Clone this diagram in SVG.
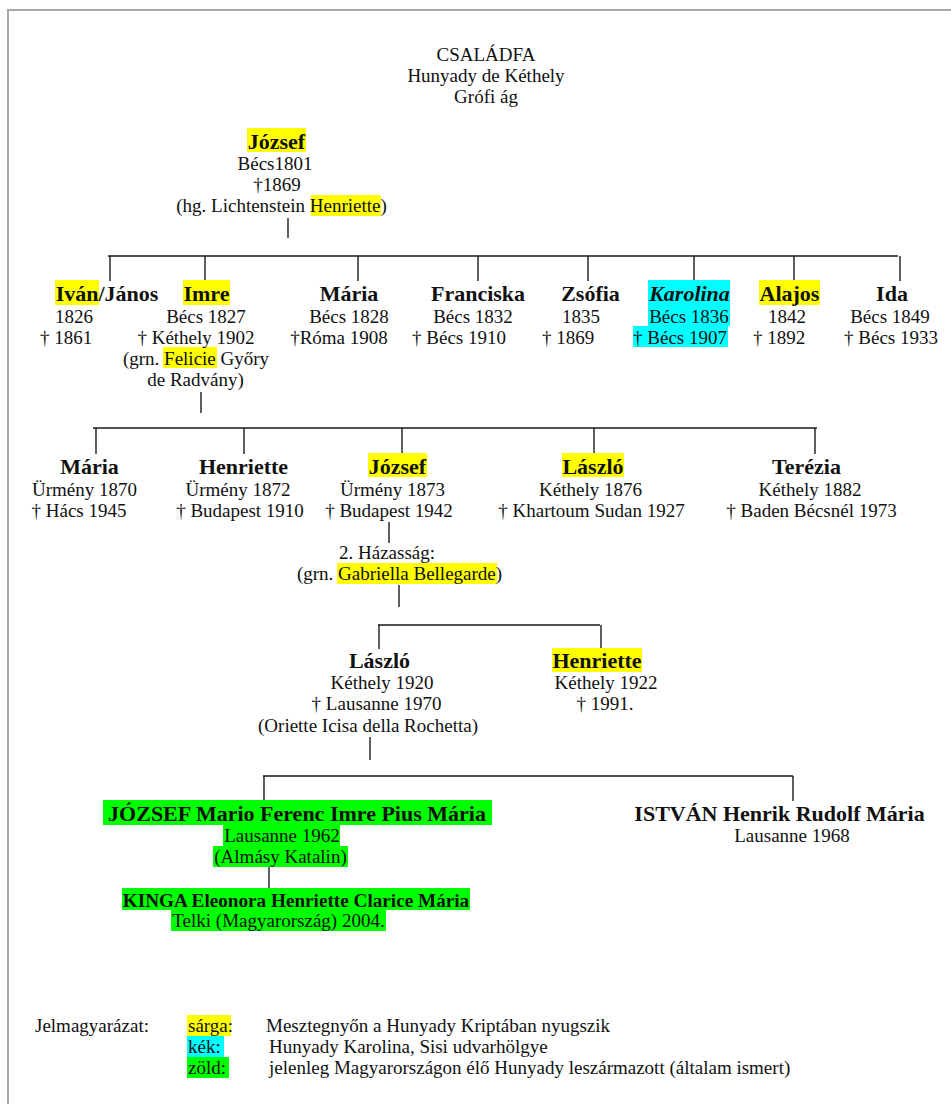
<svg xmlns="http://www.w3.org/2000/svg" width="951" height="1104" viewBox="0 0 951 1104">
<style>
text{font-family:"Liberation Serif","Times New Roman",serif;font-size:19px;fill:#111;text-anchor:middle}
.n{font-size:22px;font-weight:bold}
.s{font-size:19.2px}
.i{font-style:italic}
.l{text-anchor:start}
.y{fill:#ffff00}
.c{fill:#00ffff}
.g{fill:#00ff00}
#connectors line{stroke:#1a1a1a;stroke-width:1.4}
.frame{stroke:#a8a8a8;stroke-width:2;fill:none}
</style>
<rect width="951" height="1104" fill="#fff"/>
<path class="frame" d="M8,1104 V10 H951"/>

<g id="title">
<text x="486" y="61">CSALÁDFA</text>
<text x="486" y="82">Hunyady de Kéthely</text>
<text x="486" y="103">Grófi ág</text>
</g>

<g id="connectors">
<line x1="288" y1="218" x2="288" y2="238"/>
<line x1="108" y1="256" x2="898" y2="256"/>
<line x1="110" y1="256" x2="110" y2="281"/>
<line x1="205" y1="256" x2="205" y2="281"/>
<line x1="358" y1="256" x2="358" y2="281"/>
<line x1="478" y1="256" x2="478" y2="281"/>
<line x1="588" y1="256" x2="588" y2="281"/>
<line x1="694" y1="256" x2="694" y2="281"/>
<line x1="794" y1="256" x2="794" y2="281"/>
<line x1="900" y1="256" x2="900" y2="281"/>
<line x1="201" y1="392" x2="201" y2="413"/>
<line x1="93" y1="428" x2="817" y2="428"/>
<line x1="96" y1="428" x2="96" y2="454"/>
<line x1="244" y1="428" x2="244" y2="454"/>
<line x1="402" y1="428" x2="402" y2="454"/>
<line x1="594" y1="428" x2="594" y2="454"/>
<line x1="815" y1="428" x2="815" y2="454"/>
<line x1="389" y1="522" x2="389" y2="543"/>
<line x1="399" y1="585" x2="399" y2="607"/>
<line x1="378" y1="625" x2="600" y2="625"/>
<line x1="379" y1="625" x2="379" y2="649"/>
<line x1="601" y1="625" x2="601" y2="648"/>
<line x1="370" y1="737" x2="370" y2="760"/>
<line x1="263" y1="776" x2="793" y2="776"/>
<line x1="264" y1="776" x2="264" y2="800"/>
<line x1="793" y1="776" x2="793" y2="801"/>
<line x1="269" y1="867" x2="269" y2="888"/>
</g>

<g id="jozsef-1801">
<rect class="y" x="247" y="128" width="59" height="24"/>
<rect class="y" x="311" y="195" width="70" height="21"/>
<text class="n" x="276.5" y="149">József</text>
<text x="275" y="170">Bécs1801</text>
<text x="277" y="191">†1869</text>
<text x="281.5" y="212">(hg. Lichtenstein Henriette)</text>
</g>

<g id="ivan-janos">
<rect class="y" x="55" y="280" width="44" height="25"/>
<text class="n" x="107" y="301">Iván/János</text>
<text x="74" y="323">1826</text>
<text x="66" y="344">† 1861</text>
</g>

<g id="imre">
<rect class="y" x="183" y="280" width="47" height="25"/>
<rect class="y" x="163" y="347" width="54" height="21"/>
<text class="n" x="206.5" y="301">Imre</text>
<text x="206" y="323">Bécs 1827</text>
<text x="196" y="344">† Kéthely 1902</text>
<text x="196" y="365">(grn. Felicie Győry</text>
<text x="195.5" y="386">de Radvány)</text>
</g>

<g id="maria-1828">
<text class="n" x="349" y="301">Mária</text>
<text x="349" y="323">Bécs 1828</text>
<text x="339" y="344">†Róma 1908</text>
</g>

<g id="franciska">
<text class="n" x="478" y="301">Franciska</text>
<text x="473" y="323">Bécs 1832</text>
<text x="459" y="344">† Bécs 1910</text>
</g>

<g id="zsofia">
<text class="n" x="590.5" y="301">Zsófia</text>
<text x="581" y="323">1835</text>
<text x="568" y="344">† 1869</text>
</g>

<g id="karolina">
<rect class="c" x="648" y="280" width="82" height="46"/>
<rect class="c" x="633" y="326" width="95" height="21"/>
<text class="n i" x="689.5" y="301">Karolina</text>
<text x="689" y="323">Bécs 1836</text>
<text x="680" y="344">† Bécs 1907</text>
</g>

<g id="alajos">
<rect class="y" x="759" y="280" width="61" height="25"/>
<text class="n" x="789.5" y="301">Alajos</text>
<text x="787" y="323">1842</text>
<text x="779" y="344">† 1892</text>
</g>

<g id="ida">
<text class="n" x="892" y="301">Ida</text>
<text x="890" y="323">Bécs 1849</text>
<text x="891" y="344">† Bécs 1933</text>
</g>

<g id="maria-1870">
<text class="n" x="89.5" y="474">Mária</text>
<text x="84.5" y="496">Ürmény 1870</text>
<text x="79" y="517">† Hács 1945</text>
</g>

<g id="henriette-1872">
<text class="n" x="243.5" y="474">Henriette</text>
<text x="238" y="496">Ürmény 1872</text>
<text x="240" y="517">† Budapest 1910</text>
</g>

<g id="jozsef-1873">
<rect class="y" x="368" y="453" width="59" height="24"/>
<text class="n" x="397.5" y="474">József</text>
<text x="392.5" y="496">Ürmény 1873</text>
<text x="389" y="517">† Budapest 1942</text>
</g>

<g id="laszlo-1876">
<rect class="y" x="562" y="453" width="62" height="24"/>
<text class="n" x="593" y="474">László</text>
<text x="590.5" y="496">Kéthely 1876</text>
<text x="591.5" y="517">† Khartoum Sudan 1927</text>
</g>

<g id="terezia">
<text class="n" x="806.5" y="474">Terézia</text>
<text x="810" y="496">Kéthely 1882</text>
<text x="811.5" y="517">† Baden Bécsnél 1973</text>
</g>

<g id="marriage-2">
<rect class="y" x="337" y="563" width="160" height="21"/>
<text x="387" y="559">2. Házasság:</text>
<text x="399.5" y="580">(grn. Gabriella Bellegarde)</text>
</g>

<g id="laszlo-1920">
<text class="n" x="379.5" y="668">László</text>
<text x="382" y="689">Kéthely 1920</text>
<text x="376.5" y="710">† Lausanne 1970</text>
<text x="368" y="732">(Oriette Icisa della Rochetta)</text>
</g>

<g id="henriette-1922">
<rect class="y" x="552" y="648" width="90" height="24"/>
<text class="n" x="597" y="668">Henriette</text>
<text x="606" y="689">Kéthely 1922</text>
<text x="605" y="710">† 1991.</text>
</g>

<g id="jozsef-1962">
<rect class="g" x="103" y="800" width="389" height="25"/>
<rect class="g" x="223" y="825" width="117" height="21"/>
<rect class="g" x="213" y="846" width="135" height="21"/>
<text class="n" x="297" y="821">JÓZSEF Mario Ferenc Imre Pius Mária</text>
<text x="282" y="842">Lausanne 1962</text>
<text x="280.5" y="863">(Almásy Katalin)</text>
</g>

<g id="istvan-1968">
<text class="n" x="779.5" y="821">ISTVÁN Henrik Rudolf Mária</text>
<text x="792" y="842">Lausanne 1968</text>
</g>

<g id="kinga-2004">
<rect class="g" x="122" y="888" width="348" height="22"/>
<rect class="g" x="171" y="910" width="215" height="21"/>
<text class="n s" x="296" y="907">KINGA Eleonora Henriette Clarice Mária</text>
<text x="278.5" y="927">Telki (Magyarország) 2004.</text>
</g>

<g id="legend">
<rect class="y" x="187" y="1015" width="44" height="21"/>
<rect class="c" x="187" y="1036" width="37" height="21"/>
<rect class="g" x="187" y="1057" width="42" height="21"/>
<text class="l" x="35" y="1032">Jelmagyarázat:</text>
<text class="l" x="188" y="1032">sárga:</text>
<text class="l" x="266" y="1032">Mesztegnyőn a Hunyady Kriptában nyugszik</text>
<text class="l" x="188" y="1053">kék:</text>
<text class="l" x="269" y="1053">Hunyady Karolina, Sisi udvarhölgye</text>
<text class="l" x="188" y="1074">zöld:</text>
<text class="l" x="269" y="1074">jelenleg Magyarországon élő Hunyady leszármazott (általam ismert)</text>
</g>
</svg>
